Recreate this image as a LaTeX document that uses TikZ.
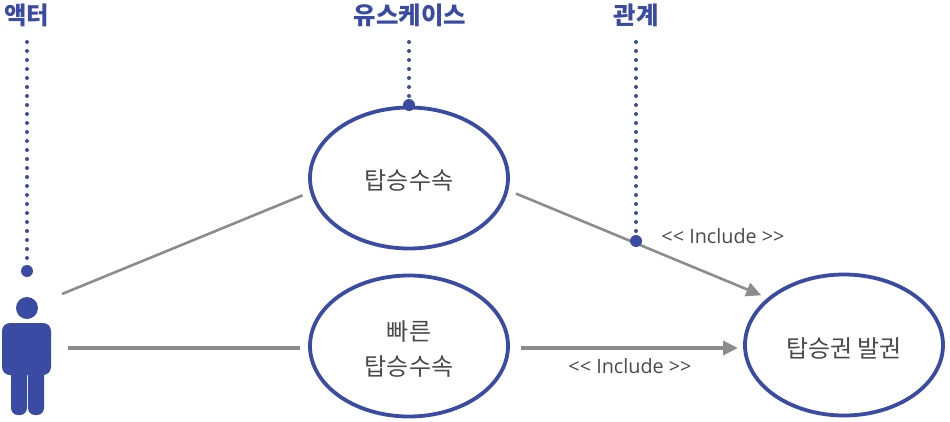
\documentclass[tikz,border=0pt]{standalone}
\usepackage{fontspec}
\setmainfont{Noto Sans CJK KR}
\newfontfamily\latinfont{Open Sans}
\usetikzlibrary{arrows.meta,shapes.geometric}
\definecolor{caseblue}{HTML}{3A4BA3}
\definecolor{linegray}{HTML}{8C8C8C}
\definecolor{textgray}{HTML}{4A4A4A}
\newcommand{\lowered}[1]{\raisebox{-3pt}[\height][\depth]{#1}}
\tikzset{
	usecase/.style={draw=caseblue, line width=3.8pt, ellipse, minimum width=198pt, minimum height=141pt, inner sep=0pt, outer sep=8pt, text=textgray, align=center, font=\fontsize{24}{35}\selectfont},
	title/.style={text=caseblue, inner sep=0pt, font=\fontsize{24.4}{28}\selectfont\bfseries},
	marker/.style={circle, fill=caseblue, minimum size=12pt, inner sep=0pt},
	leader/.style={caseblue, line width=4pt, line cap=round, dash pattern=on 0pt off 9pt},
	assoc/.style={linegray, line width=2.6pt},
	incl/.style={linegray, -{Triangle[length=15pt,width=14pt]}},
	stereo/.style={text=textgray, inner sep=0pt, font=\latinfont\fontsize{19.8}{22}\selectfont}
}
\begin{document}
\begin{tikzpicture}[x=1pt,y=-1pt]
	\useasboundingbox (0,0) rectangle (950,421);

	\node[usecase] (boarding) at (409,178) {\lowered{탑승수속}};
	\node[usecase] (fast) at (409,346) {\lowered{빠른}\\\lowered{탑승수속}};
	\node[usecase] (ticket) at (844,345) {\lowered{탑승권 발권}};

	% actor
	\fill[caseblue, rounded corners=7pt] (11,365) rectangle (27,415);
	\fill[caseblue, rounded corners=7pt] (28,365) rectangle (44,415);
	\fill[caseblue, rounded corners=8pt] (2,323) rectangle (51,375);
	\node[circle, fill=caseblue, minimum size=22pt, inner sep=0pt] (head) at (27,308) {};
	\coordinate (actorUp) at (62,294);
	\coordinate (actorMid) at (68,348);

	\draw [assoc, shorten >=2pt] (actorUp) -- (boarding.189);
	\draw [assoc, line width=3.6pt, shorten >=2pt] (actorMid) -- (fast.west |- actorMid);
	\draw [incl, line width=2.6pt, shorten <=2pt] (boarding.-8.5) -- (ticket.149.7);
	\coordinate (fastOut) at (fast.east |- actorMid);
	\coordinate (ticketIn) at (ticket.west |- actorMid);
	\draw [incl, line width=3.6pt, shorten <=4.5pt, shorten >=-1pt] (fastOut) -- (ticketIn);

	\node[stereo] (inclUp) at (723,236) {<{}< Include >{}>};
	\node[stereo] (inclDown) at (630,366) {<{}< Include >{}>};

	% labels and their dotted leaders
	\node[title] (labActor) at (27,15) {액터};
	\node[title] (labCase) at (410,15) {유스케이스};
	\node[title] (labRel) at (636,15) {관계};
	\node[marker] (dotActor) at (27,271) {};
	\node[marker] (dotCase) at (409,105) {};
	\node[marker] (dotRel) at (636,241) {};

	\foreach \a/\b in {labActor/dotActor,labCase/dotCase,labRel/dotRel}
		\draw [leader] (\b |- 0,42) -- (\b);
\end{tikzpicture}
\end{document}
